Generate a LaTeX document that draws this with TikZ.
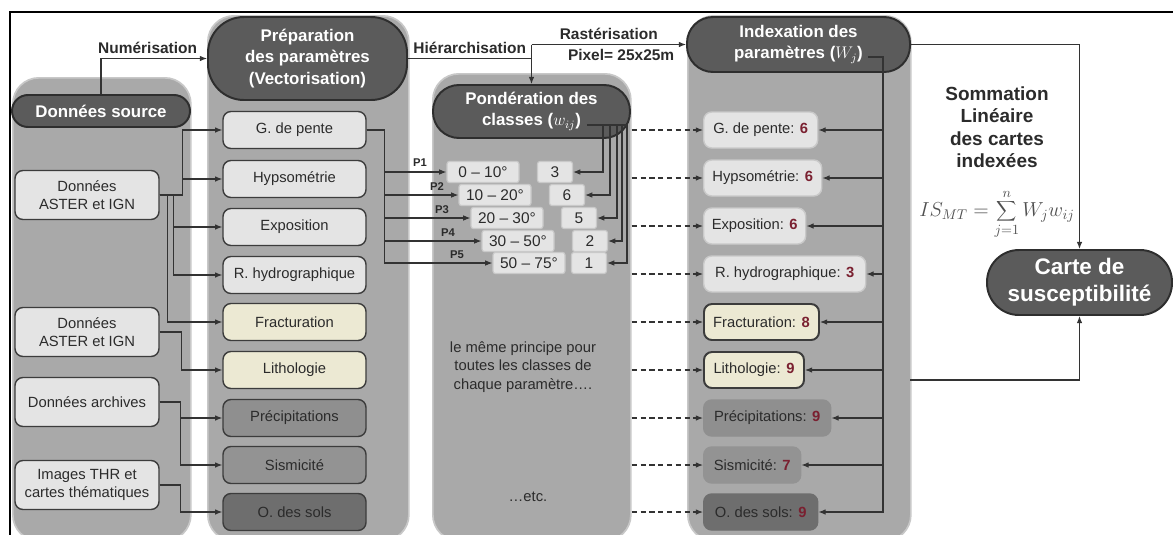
\documentclass[tikz,border=0pt]{standalone}
\usepackage{fontspec}
\setmainfont{Liberation Sans}
\usetikzlibrary{arrows.meta, positioning}

\definecolor{panelgray}{HTML}{A9A9A9}
\definecolor{paneledge}{HTML}{C8C8C8}
\definecolor{headfill}{HTML}{5B5B5B}
\definecolor{headedge}{HTML}{2E2E2E}
\definecolor{lightbox}{HTML}{E4E4E4}
\definecolor{boxedge}{HTML}{3C3C3C}
\definecolor{softedge}{HTML}{C9C9C9}
\definecolor{beige}{HTML}{ECE9D3}
\definecolor{precipgray}{HTML}{8F8F8F}
\definecolor{sismgray}{HTML}{939393}
\definecolor{solsgray}{HTML}{6E6E6E}
\definecolor{linecol}{HTML}{333333}
\definecolor{textcol}{HTML}{2B2B2B}
\definecolor{numred}{HTML}{7A2030}
\definecolor{formcol}{HTML}{505050}

\newcommand{\idxval}[1]{\textcolor{numred}{\textbf{#1}}}

\begin{document}
\begin{tikzpicture}[x=0.25mm, y=-0.25mm,
    panel/.style={rectangle, draw=paneledge, line width=1.2pt, fill=panelgray, rounded corners=6.5mm, anchor=north west, inner sep=0pt},
    head/.style={rectangle, draw=headedge, line width=1.4pt, fill=headfill, text=white, font=\fontsize{12}{15}\selectfont\bfseries, align=center, inner sep=2pt, rounded corners=#1},
    head/.default=4mm,
    srcbox/.style={rectangle, draw=boxedge, line width=1pt, fill=lightbox, rounded corners=2mm, align=center, text=textcol, font=\fontsize{10.5}{12.5}\selectfont, minimum width=36mm, minimum height=12.25mm, inner sep=1pt},
    param/.style={srcbox, minimum width=35.75mm, minimum height=9.25mm},
    classe/.style={rectangle, draw=softedge, line width=0.8pt, fill=lightbox, rounded corners=0.6mm, text=textcol, font=\fontsize{11}{13}\selectfont, minimum height=5.25mm, inner sep=1pt},
    indexbox/.style={rectangle, draw=softedge, line width=1pt, fill=lightbox, rounded corners=2mm, anchor=west, text=textcol, font=\fontsize{10.5}{12.5}\selectfont, minimum height=9mm, inner sep=1pt},
    strong/.style={draw=boxedge, line width=1.4pt},
    arrow/.style={-{Latex[length=1.8mm, width=1.4mm]}, line width=0.8pt, draw=linecol},
    dasharrow/.style={arrow, dash pattern=on 1.3mm off 0.9mm},
    wire/.style={line width=0.8pt, draw=linecol},
    label/.style={font=\fontsize{11}{13}\selectfont\bfseries, text=textcol},
    plabel/.style={font=\fontsize{8}{9}\selectfont\bfseries, text=textcol, inner sep=0pt},
    note/.style={font=\fontsize{10.5}{13}\selectfont, text=textcol, align=center},
]
\useasboundingbox (0,0) rectangle (1173,534);
\clip (0,0) rectangle (1173,534);

\node[panel, minimum width=44.5mm, minimum height=115.75mm] (srcpanel) at (12,77) {};
\node[panel, minimum width=50.25mm, minimum height=131.25mm] (preppanel) at (207,15) {};
\node[panel, minimum width=49.5mm, minimum height=116.75mm] (pondpanel) at (432,73) {};
\node[panel, minimum width=55.75mm, minimum height=131.25mm] (indexpanel) at (687,15) {};

\draw[line width=1pt] (10,540) -- (10,12) -- (1180,12);

\node[head, minimum width=44.5mm, minimum height=8mm] (srchead) at (101,111) {Données source};
\node[head=9mm, minimum width=49.75mm, minimum height=20.75mm] (prephead) at (307.5,58.5) {Préparation\\des paramètres\\(Vectorisation)};
\node[head=6.5mm, minimum width=49.25mm, minimum height=13.25mm] (pondhead) at (531.5,111.5) {Pondération des\\classes ($w_{ij}$)};
\node[head=6.5mm, minimum width=55.75mm, minimum height=13.75mm] (indexhead) at (798.5,44.5) {Indexation des\\paramètres ($W_j$)};
\node[head=8mm, minimum width=46.25mm, minimum height=16.25mm, font=\fontsize{16}{19}\selectfont\bfseries] (carte) at (1079.5,282.5) {Carte de\\susceptibilité};

\node[srcbox] (aster1) at (87,195) {Données\\ASTER et IGN};
\node[srcbox] (aster2) at (87,332) {Données\\ASTER et IGN};
\node[srcbox] (archives) at (87,402) {Données archives};
\node[srcbox] (images) at (87,485) {Images THR et\\cartes thématiques};

\node[param] (pente) at (294.5,130) {G. de pente};
\node[param] (hypso) at (294.5,179) {Hypsométrie};
\node[param] (expo) at (294.5,227) {Exposition};
\node[param] (hydro) at (294.5,275) {R. hydrographique};
\node[param, fill=beige] (fract) at (294.5,322) {Fracturation};
\node[param, fill=beige] (litho) at (294.5,370) {Lithologie};
\node[param, fill=precipgray] (precip) at (294.5,418) {Précipitations};
\node[param, fill=sismgray] (sism) at (294.5,465) {Sismicité};
\node[param, fill=solsgray] (sols) at (294.5,512) {O. des sols};

\node[classe, minimum width=18mm] (r1) at (483,172) {0 – 10°};
\node[classe, minimum width=18mm] (r2) at (495,195) {10 – 20°};
\node[classe, minimum width=18mm] (r3) at (507,218) {20 – 30°};
\node[classe, minimum width=18mm] (r4) at (518,241) {30 – 50°};
\node[classe, minimum width=18mm] (r5) at (529,263) {50 – 75°};
\node[classe, minimum width=8.75mm] (v1) at (555,172) {3};
\node[classe, minimum width=8.75mm] (v2) at (567,195) {6};
\node[classe, minimum width=8.75mm] (v3) at (579,218) {5};
\node[classe, minimum width=8.75mm] (v4) at (590,241) {2};
\node[classe, minimum width=8.75mm] (v5) at (589,263) {1};

\node[plabel] (p1) at (420,163) {P1};
\node[plabel] (p2) at (437,187) {P2};
\node[plabel] (p3) at (442,210) {P3};
\node[plabel] (p4) at (448,233) {P4};
\node[plabel] (p5) at (457,255) {P5};

\node[note] (principe) at (523,367) {le même principe pour\\toutes les classes de\\chaque paramètre….};
\node[note] (etc) at (528,497) {…etc.};

\node[indexbox, minimum width=28.5mm] (ipente) at (703,130) {G. de pente: \idxval{6}};
\node[indexbox, minimum width=29.5mm] (ihypso) at (703,178) {Hypsométrie: \idxval{6}};
\node[indexbox, minimum width=25.5mm] (iexpo) at (703,226) {Exposition: \idxval{6}};
\node[indexbox, minimum width=40.5mm] (ihydro) at (703,274) {R. hydrographique: \idxval{3}};
\node[indexbox, strong, fill=beige, minimum width=28.75mm] (ifract) at (703,322) {Fracturation: \idxval{8}};
\node[indexbox, strong, fill=beige, minimum width=25mm] (ilitho) at (703,370) {Lithologie: \idxval{9}};
\node[indexbox, fill=precipgray, draw=precipgray, minimum width=31.75mm] (iprecip) at (703,418) {Précipitations: \idxval{9}};
\node[indexbox, fill=sismgray, draw=sismgray, minimum width=24.25mm] (isism) at (703,465) {Sismicité: \idxval{7}};
\node[indexbox, fill=solsgray, draw=solsgray, minimum width=28.5mm] (isols) at (703,512) {O. des sols: \idxval{9}};

\node[font=\fontsize{13.5}{16}\selectfont\bfseries, text=textcol, align=center, inner sep=1pt] (somme) at (997,127) {Sommation\\Linéaire\\des cartes\\indexées};
\node[font=\fontsize{14}{16}\selectfont, text=formcol, inner sep=1pt] (formule) at (997,214) {$\displaystyle IS_{MT} = \sum_{j=1}^{n} W_j w_{ij}$};

\draw[arrow] (srchead.north) |- node[label, pos=0.72, above]{Numérisation} (prephead.west);
\draw[arrow] (prephead.east) -| node[label, pos=0.25, above]{Hiérarchisation} (pondhead.north);
\coordinate (rast) at (pondhead.north |- indexhead.west);
\draw[wire] (rast) -- (pondhead.north |- prephead.east);
\draw[arrow] (rast) -- node[label, above]{Rastérisation} node[label, below, pos=0.58]{Pixel= 25x25m} (indexhead.west);

\draw[arrow] (aster1.east) -- ++(23,0) |- (pente.west);
\draw[arrow] (aster1.east) -- ++(23,0) |- (hypso.west);
\draw[arrow] (aster1.east) -- ++(14,0) |- (expo.west);
\draw[arrow] (aster1.east) -- ++(14,0) |- (hydro.west);
\draw[arrow] (aster1.east) -- ++(8,0) |- (fract.west);
\draw[arrow] (aster2.east) -- ++(22,0) |- (litho.west);
\draw[arrow] (archives.east) -- ++(21,0) |- (precip.west);
\draw[arrow] (archives.east) -- ++(21,0) |- (sism.west);
\draw[arrow] (images.east) -- ++(21,0) |- (sols.west);

\draw[arrow] (pente.east) -- ++(18,0) |- (r1.west);
\draw[arrow] (pente.east) -- ++(18,0) |- (r2.west);
\draw[arrow] (pente.east) -- ++(18,0) |- (r3.west);
\draw[arrow] (pente.east) -- ++(18,0) |- (r4.west);
\draw[arrow] (pente.east) -- ++(18,0) |- (r5.west);

\coordinate (wout) at (587,125);
\draw[arrow] (wout) -- (603,125) |- (v1.east);
\draw[arrow] (wout) -- (610,125) |- (v2.east);
\draw[arrow] (wout) -- (617,125) |- (v3.east);
\draw[arrow] (wout) -- (622,125) |- (v4.east);
\draw[arrow] (wout) -- (627,125) |- (v5.east);

\draw[dasharrow] (pondpanel.east |- ipente.west) -- (ipente.west);
\draw[dasharrow] (pondpanel.east |- ihypso.west) -- (ihypso.west);
\draw[dasharrow] (pondpanel.east |- iexpo.west) -- (iexpo.west);
\draw[dasharrow] (pondpanel.east |- ihydro.west) -- (ihydro.west);
\draw[dasharrow] (pondpanel.east |- ifract.west) -- (ifract.west);
\draw[dasharrow] (pondpanel.east |- ilitho.west) -- (ilitho.west);
\draw[dasharrow] (pondpanel.east |- iprecip.west) -- (iprecip.west);
\draw[dasharrow] (pondpanel.east |- isism.west) -- (isism.west);
\draw[dasharrow] (pondpanel.east |- isols.west) -- (isols.west);

\coordinate (wjout) at (868,57);
\draw[arrow] (wjout) -- (883,57) |- (ipente.east);
\draw[arrow] (wjout) -- (883,57) |- (ihypso.east);
\draw[arrow] (wjout) -- (883,57) |- (iexpo.east);
\draw[arrow] (wjout) -- (883,57) |- (ihydro.east);
\draw[arrow] (wjout) -- (883,57) |- (ifract.east);
\draw[arrow] (wjout) -- (883,57) |- (ilitho.east);
\draw[arrow] (wjout) -- (883,57) |- (iprecip.east);
\draw[arrow] (wjout) -- (883,57) |- (isism.east);
\draw[arrow] (wjout) -- (883,57) |- (isols.east);

\draw[arrow] (indexhead.east) -| (carte.north);
\coordinate (sumin) at (910,380);
\draw[arrow] (sumin) -| (carte.south);

\end{tikzpicture}
\end{document}
